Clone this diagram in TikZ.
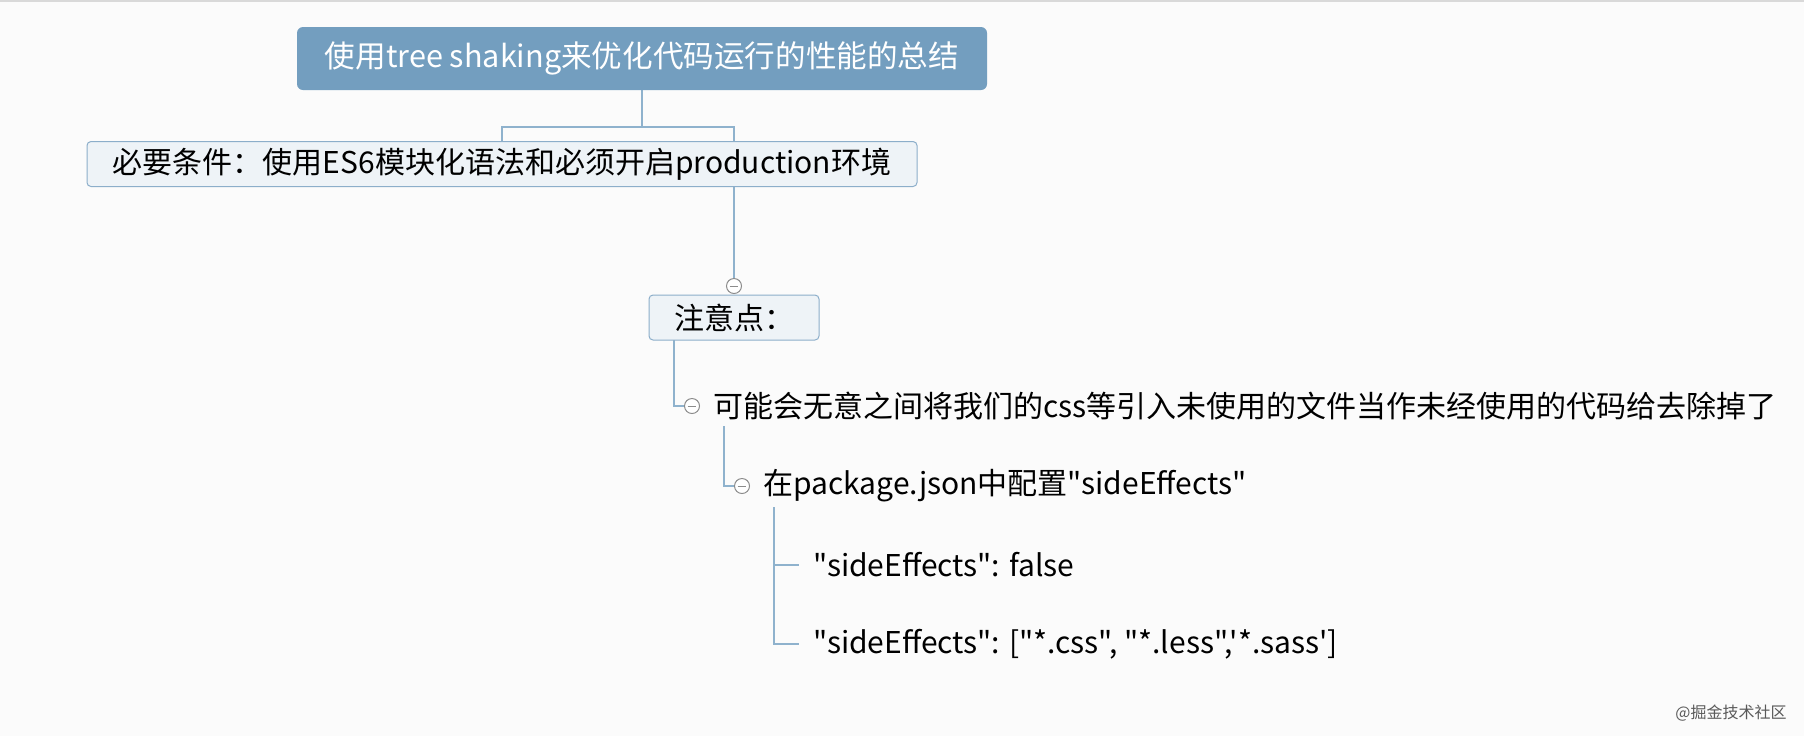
\documentclass[tikz,border=0pt]{standalone}
\usepackage{fontspec}
\usetikzlibrary{backgrounds}
\newfontfamily\cjk{Noto Sans CJK SC}
\definecolor{rootblue}{HTML}{739EBF}
\definecolor{boxfill}{HTML}{EEF3F7}
\definecolor{boxline}{HTML}{8CAECA}
\definecolor{linkblue}{HTML}{8FB2CD}
\definecolor{paper}{HTML}{FBFBFB}
\tikzset{rootbox/.style={rectangle, rounded corners=3pt, fill=rootblue, text=white, minimum width=345pt, minimum height=31.5pt, inner sep=0pt, font=\cjk\fontsize{15.3}{18}\selectfont}}
\tikzset{subbox/.style={rectangle, rounded corners=2pt, fill=boxfill, draw=boxline, line width=.5pt, minimum height=22.5pt, inner sep=0pt, font=\cjk\fontsize{15}{18}\selectfont}}
\tikzset{leaf/.style={anchor=west, inner sep=0pt, text=black, font=\cjk\fontsize{15}{18}\selectfont}}
\tikzset{fold/.style={circle, draw=black!45, fill=white, line width=.5pt, minimum size=7.5pt, inner sep=0pt, path picture={\draw[black!45, line width=.5pt] ([xshift=-2.2pt]path picture bounding box.center) -- ([xshift=2.2pt]path picture bounding box.center);}}}
\tikzset{link/.style={draw=linkblue, line width=.6pt}}

\begin{document}
\begin{tikzpicture}[x=.5pt, y=-.5pt]
    \useasboundingbox (0,0) rectangle (1804,736);
    \node[rootbox] (root) at (642,58.5) {使用tree shaking来优化代码运行的性能的总结};
    \node[subbox, minimum width=415pt] (need) at (502,164) {必要条件：使用ES6模块化语法和必须开启production环境};
    \node[subbox, minimum width=85pt] (note) at (734,317.5) {注意点：};
    \node[fold] (fold0) at (734,286) {};

    \node[fold] (fold1) at (692,406) {};
    \node[leaf] (tip1) at (713,406) {可能会无意之间将我们的css等引入未使用的文件当作未经使用的代码给去除掉了};
    \node[fold] (fold2) at (742,486) {};
    \node[leaf] (tip2) at (763,486) {在package.json中配置"sideEffects"};
    \node[leaf, inner xsep=7pt] (opt1) at (799,565) {"sideEffects": false};
    \node[leaf, inner xsep=7pt] (opt2) at (799,644) {"sideEffects": ["*.css", "*.less",'*.sass']};

    \node[anchor=east, inner sep=0pt, text=black!65, font=\cjk\fontsize{8}{9}\selectfont] (mark) at (1787,713) {@掘金技术社区};

    \coordinate (split) at (642,127);
    \coordinate (noteout) at (674,340);
    \coordinate (tip1out) at (724,426);
    \coordinate (tip2out) at (774,507);

    \begin{scope}[on background layer]
        \fill[paper] (0,0) rectangle (1804,736);
        \draw[black!15, line width=1pt] (0,1) -- (1804,1);
        \draw[link] (root) -- (split);
        \draw[link] (split) -| (need.north);
        \draw[link] (split) -| (fold0.north);
        \draw[link] (noteout) |- (fold1);
        \draw[link] (tip1out) |- (fold2);
        \draw[link] (tip2out) |- (opt1.west);
        \draw[link] (tip2out) |- (opt2.west);
    \end{scope}
\end{tikzpicture}
\end{document}
